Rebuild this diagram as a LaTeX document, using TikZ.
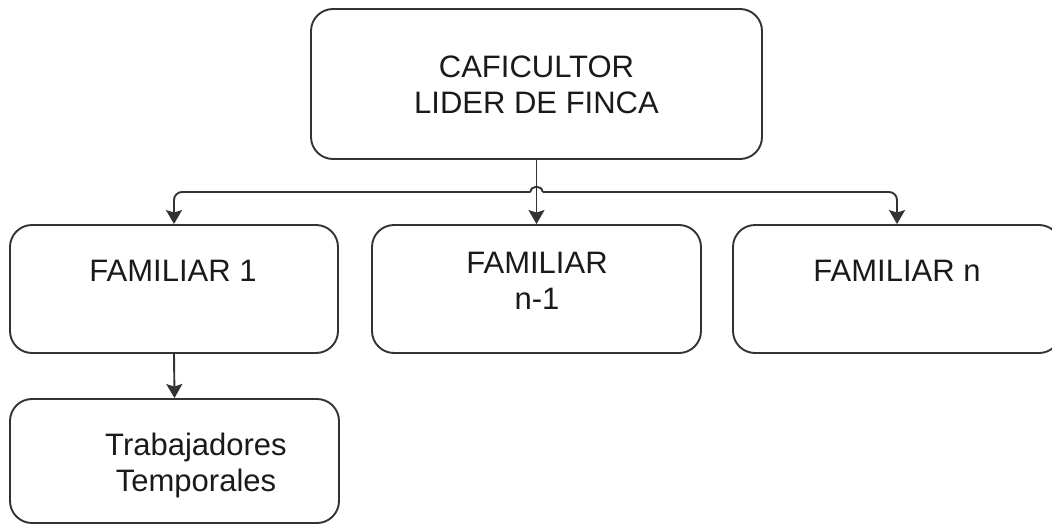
\documentclass[tikz,border=0pt]{standalone}
\usepackage{fontspec}
\setmainfont{Liberation Sans}
\usetikzlibrary{arrows.meta,calc}
\definecolor{linec}{HTML}{333333}
\definecolor{textc}{HTML}{1A1A1A}
\tikzset{
  box/.style={draw=linec, line width=1.9pt, rounded corners=22pt, inner sep=0pt},
  lbl/.style={text=textc, font=\fontsize{31}{36}\selectfont, align=center, inner sep=0pt, anchor=north},
  conn/.style={draw=linec, line width=1.9pt},
  arr/.style={conn, -{Stealth[length=14pt,width=16pt,inset=2.5pt]}}
}
\begin{document}
\begin{tikzpicture}[x=1pt,y=-1pt]
\useasboundingbox (0,0) rectangle (1052,525);
\clip (0,0) rectangle (1052,525);
% boxes
\node[box, minimum width=451pt, minimum height=150pt] (top) at (536.5,84) {};
\node[box, minimum width=328pt, minimum height=128pt] (f1) at (174,289) {};
\node[box, minimum width=329pt, minimum height=128pt] (fm) at (536.5,289) {};
\node[box, minimum width=328pt, minimum height=128pt] (fn) at (897,289) {};
\node[box, minimum width=329pt, minimum height=124pt] (tr) at (174.5,461) {};
% labels
\node[lbl] (ttop) at (536.5,56) {CAFICULTOR\\LIDER DE FINCA};
\node[lbl] (tf1) at (173,260) {FAMILIAR 1};
\node[lbl] (tfm) at (537,252) {FAMILIAR\\n-1};
\node[lbl] (tfn) at (897,260) {FAMILIAR n};
\node[lbl] (ttr) at (196,433) {Trabajadores\\Temporales};
% connectors
\coordinate (j) at (top.south |- 0,192);
\coordinate (hl) at ($(j)+(-6,0)$);
\coordinate (hr) at ($(j)+(6,0)$);
\draw[arr] (top.south) -- (fm.north);
\draw[conn] (hl) .. controls ($(hl)+(0,-7)$) and ($(hr)+(0,-7)$) .. (hr);
\draw[arr, rounded corners=8pt] (hl) -| (f1.north);
\draw[arr, rounded corners=8pt] (hr) -| (fn.north);
\draw[arr] (f1.south) -- (tr.north);
\end{tikzpicture}
\end{document}
